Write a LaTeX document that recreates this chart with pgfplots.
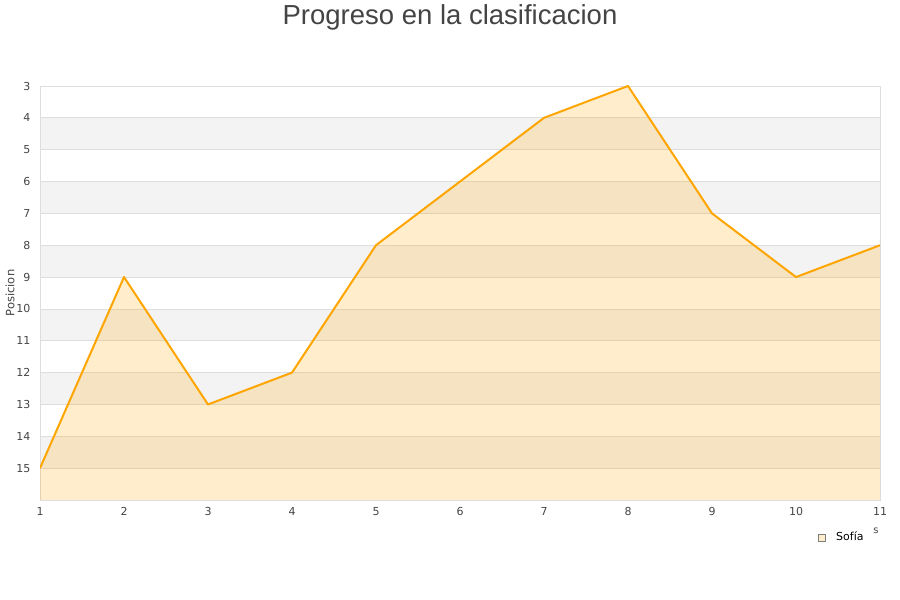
\documentclass[border=0pt]{standalone}
\usepackage{pgfplots}
\pgfplotsset{compat=1.18}
\usepackage{fontspec}
\setmainfont{DejaVu Sans}
\newfontfamily\titlefont{Liberation Sans}
\definecolor{lineor}{RGB}{255,165,0}
\definecolor{band}{RGB}{243,243,243}
\definecolor{gridc}{RGB}{221,221,221}
\definecolor{txt}{RGB}{68,68,68}

\begin{document}
\begin{tikzpicture}[x=1pt,y=1pt]
\node[anchor=center, text=txt, font=\titlefont\fontsize{27.5}{31}\selectfont] at (450,583) {Progreso en la clasificacion};
\begin{axis}[
	at={(40pt,100pt)}, anchor=south west,
	scale only axis,
	width=840pt, height=414pt,
	xmin=1, xmax=11,
	ymin=3, ymax=16,
	y dir=reverse,
	xtick={1,...,11},
	ytick={3,...,15},
	major tick length=0pt,
	ymajorgrids,
	major grid style={gridc, line width=0.8pt},
	axis line style={gridc, line width=0.8pt},
	tick label style={text=txt, font=\fontsize{11}{13}\selectfont},
	/pgf/number format/assume math mode=true,
	xticklabel style={yshift=-4pt},
	yticklabel style={xshift=-6pt},
	legend style={at={(rel axis cs:0.922,-0.09)}, anchor=west, draw=none, fill=none,
		font=\fontsize{11}{13}\selectfont, text=black, legend cell align=left,
		/tikz/every odd column/.append style={column sep=9pt}},
	legend image code/.code={\draw[fill=lineor!20, draw=txt!70, line width=0.5pt] (0pt,-3.5pt) rectangle (7pt,3.5pt);},
	set layers,
]
\begin{pgfonlayer}{axis background}
\fill[band] (axis cs:1,4) rectangle (axis cs:11,5);
\fill[band] (axis cs:1,6) rectangle (axis cs:11,7);
\fill[band] (axis cs:1,8) rectangle (axis cs:11,9);
\fill[band] (axis cs:1,10) rectangle (axis cs:11,11);
\fill[band] (axis cs:1,12) rectangle (axis cs:11,13);
\fill[band] (axis cs:1,14) rectangle (axis cs:11,15);
\end{pgfonlayer}
\addplot[draw=none, fill=lineor, fill opacity=0.2, forget plot] coordinates {
	(1,15) (2,9) (3,13) (4,12) (5,8) (6,6) (7,4) (8,3) (9,7) (10,9) (11,8) (11,16) (1,16)
};
\addplot[lineor, line width=2pt, line join=round] coordinates {
	(1,15) (2,9) (3,13) (4,12) (5,8) (6,6) (7,4) (8,3) (9,7) (10,9) (11,8)
};
\addlegendentry{Sofía}
\end{axis}
\node[rotate=90, text=txt, font=\fontsize{11.5}{13}\selectfont] at (10,307) {Posicion};
\node[text=txt, font=\fontsize{10}{11}\selectfont] at (876,69) {s};
\path (0,0) rectangle (900,600);
\end{tikzpicture}
\end{document}
